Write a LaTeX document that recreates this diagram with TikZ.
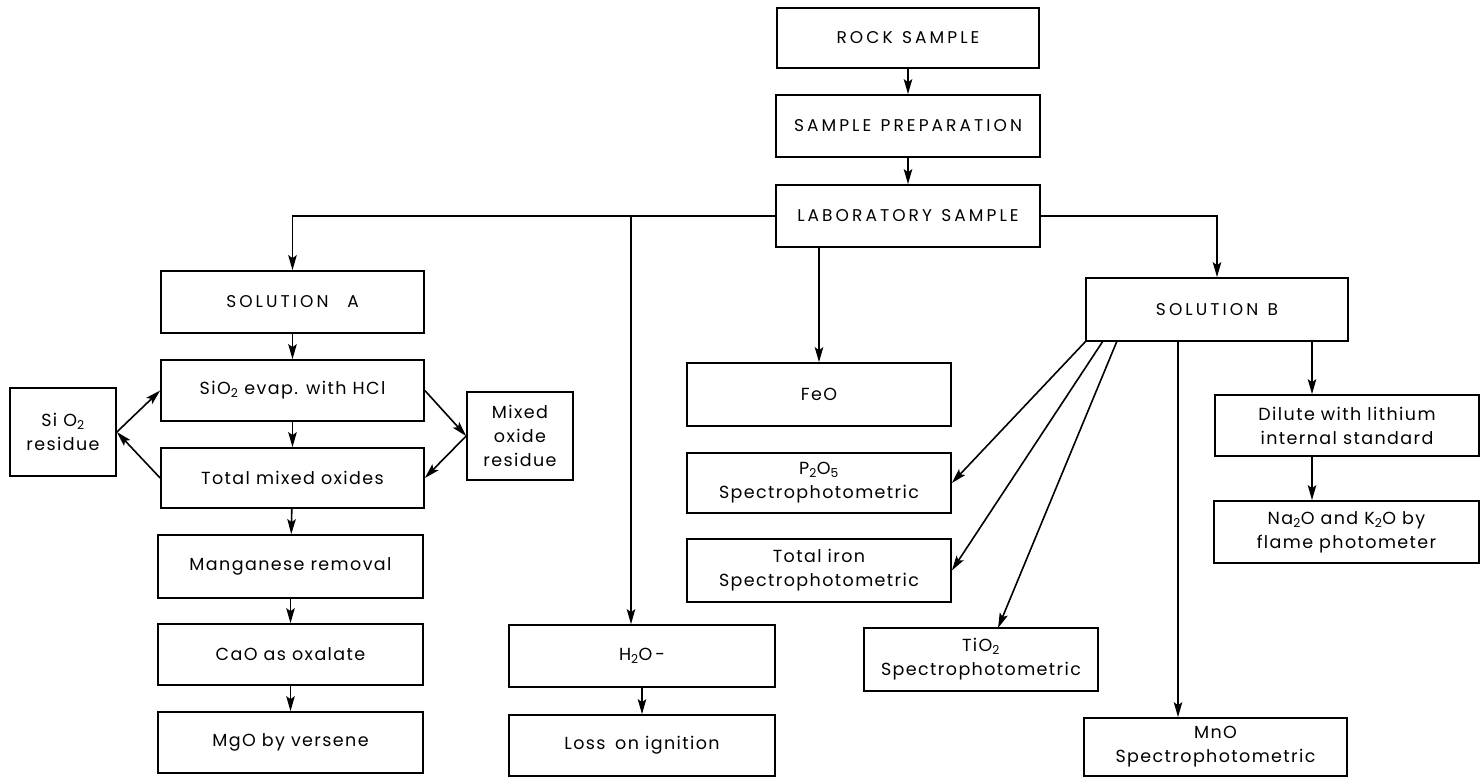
\documentclass[tikz,border=0pt]{standalone}
\usepackage{fontspec}
\setmainfont[LetterSpace=8]{Poppins}
\newfontfamily\capsfont[LetterSpace=18]{Poppins}
\usetikzlibrary{arrows.meta}
\newcommand{\wsp}{\hspace{0.55em}}
\tikzset{
  box/.style={draw, line width=1.7pt, rectangle, inner sep=0pt, align=center,
    font=\fontsize{17.5}{24}\selectfont},
  capbox/.style={box, font=\capsfont\fontsize{17}{22}\selectfont},
  conn/.style={line width=1.6pt},
  arr/.style={conn, -{Stealth[length=15pt,width=8.5pt,inset=3pt]}},
}
\begin{document}
\begin{tikzpicture}[x=1pt,y=-1pt]
\useasboundingbox (0,0) rectangle (1482,780);
% top chain
\node[capbox, minimum width=262, minimum height=60] (rock) at (908,38) {ROCK\wsp SAMPLE};
\node[capbox, minimum width=264, minimum height=62] (prep) at (908,126) {SAMPLE\wsp PREPARATION};
\node[capbox, minimum width=264, minimum height=62] (lab) at (908,216) {LABORATORY\wsp SAMPLE};
% left column
\node[capbox, minimum width=263, minimum height=62] (solA) at (292.5,302) {SOLUTION\wsp\wsp A};
\node[box, minimum width=263, minimum height=61] (evap) at (292.5,390.5) {SiO\textsubscript{2} evap. with HCl};
\node[box, minimum width=263, minimum height=60] (tmo) at (292.5,478) {Total mixed oxides};
\node[box, minimum width=265, minimum height=63] (mn) at (290.5,566.5) {Manganese removal};
\node[box, minimum width=265, minimum height=61] (cao) at (290.5,654.5) {CaO as oxalate};
\node[box, minimum width=265, minimum height=61] (mgo) at (290.5,742.5) {MgO by versene};
\node[box, minimum width=106, minimum height=88] (sres) at (63,432) {Si O\textsubscript{2}\\residue};
\node[box, minimum width=106, minimum height=88] (mres) at (520,436) {Mixed\\oxide\\residue};
% middle
\node[box, minimum width=266, minimum height=62] (h2o) at (642,656) {H\textsubscript{2}O\,-};
\node[box, minimum width=266, minimum height=61] (loss) at (642,745.5) {Loss\wsp on ignition};
\node[box, minimum width=264, minimum height=63] (feo) at (819,394.5) {FeO};
\node[box, minimum width=264, minimum height=60] (p2o5) at (819,483) {P\textsubscript{2}O\textsubscript{5}\\Spectrophotometric};
\node[box, minimum width=264, minimum height=63] (tfe) at (819,570.5) {Total iron\\Spectrophotometric};
\node[box, minimum width=234, minimum height=63] (tio2) at (981,659.5) {TiO\textsubscript{2}\\Spectrophotometric};
% right
\node[capbox, minimum width=262, minimum height=63] (solB) at (1217,309.5) {SOLUTION\wsp B};
\node[box, minimum width=264, minimum height=61] (dil) at (1347,425.5) {Dilute with lithium\\internal standard};
\node[box, minimum width=265, minimum height=62] (na) at (1346.5,532) {Na\textsubscript{2}O and K\textsubscript{2}O by\\flame photometer};
\node[box, minimum width=263, minimum height=58] (mno) at (1215.5,747) {MnO\\Spectrophotometric};
% junction coordinates
\coordinate (jH) at (631,216);
\coordinate (jB1) at (1086,341);
\coordinate (jB2) at (1103,341);
\coordinate (jB3) at (1117,341);
\coordinate (jBm) at (1178,341);
\coordinate (jBd) at (1312,341);
\coordinate (tTi) at (998,628);
% connectors
\draw[arr] (rock) -- (prep);
\draw[arr] (prep) -- (lab);
\draw[arr] (lab.west) -| (solA.north);
\draw[arr] (lab.east) -| (solB.north);
\draw[arr] (jH) -- (jH |- h2o.north);
\draw[arr] (feo.north |- lab.south) -- (feo.north);
\draw[arr] (solA) -- (evap);
\draw[arr] (evap) -- (tmo);
\draw[arr] (tmo) -- (mn);
\draw[arr] (mn) -- (cao);
\draw[arr] (cao) -- (mgo);
\draw[arr] (sres.east) -- (evap.west);
\draw[arr] (tmo.west) -- (sres.east);
\draw[arr] (evap.east) -- (mres.west);
\draw[arr] (mres.west) -- (tmo.east);
\draw[arr] (h2o) -- (loss);
\draw[arr] (jB1) -- (p2o5.east);
\draw[arr] (jB2) -- (tfe.east);
\draw[arr] (jB3) -- (tTi);
\draw[arr] (jBm) -- (jBm |- mno.north);
\draw[arr] (jBd) -- (jBd |- dil.north);
\draw[arr] (jBd |- dil.south) -- (jBd |- na.north);
\end{tikzpicture}
\end{document}
